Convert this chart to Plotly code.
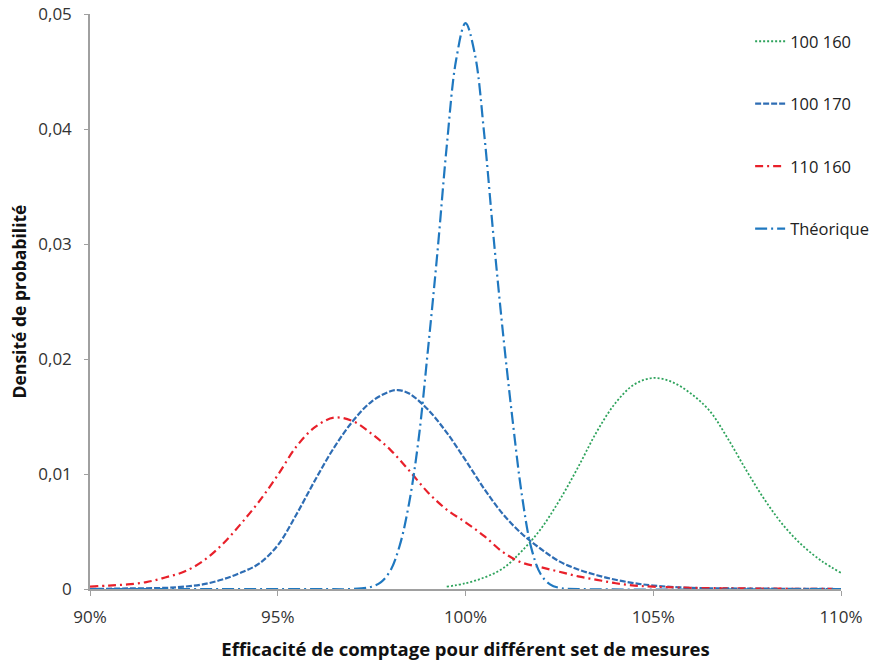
import plotly.graph_objects as go

# ---- data (x in %, y = probability density) ----
x_100_160 = [99.5, 100.0, 100.5, 101.0, 101.5, 102.0, 102.5, 103.0, 103.5, 104.0, 104.5, 105.0,
             105.5, 106.0, 106.5, 107.0, 107.5, 108.0, 108.5, 109.0, 109.5, 110.0]
y_100_160 = [0.0002, 0.0005, 0.0010, 0.0018, 0.0033, 0.0052, 0.0077, 0.0106, 0.0137, 0.0162, 0.0178, 0.01835,
             0.0180, 0.0170, 0.0155, 0.0130, 0.0102, 0.0076, 0.0054, 0.0037, 0.0024, 0.0014]

x_100_170 = [90.0, 91.0, 92.0, 92.5, 93.0, 93.5, 94.0, 94.5, 95.0, 95.5, 96.0, 96.5, 97.0, 97.5, 98.0, 98.2,
             98.5, 99.0, 99.5, 100.0, 100.5, 101.0, 101.5, 102.0, 102.5, 103.0, 103.5, 104.0, 104.5,
             105.0, 106.0, 107.0, 110.0]
y_100_170 = [0.0, 0.00005, 0.0001, 0.0002, 0.0004, 0.0008, 0.0014, 0.0022, 0.0038, 0.0065, 0.0095, 0.0123, 0.0146, 0.0163, 0.0172, 0.0173,
             0.0170, 0.0156, 0.0136, 0.0112, 0.0087, 0.0065, 0.0048, 0.0035, 0.0024, 0.0017, 0.0012, 0.0008, 0.0005,
             0.0003, 0.0001, 0.00005, 0.0]

x_110_160 = [90.0, 90.5, 91.0, 91.5, 92.0, 92.5, 93.0, 93.5, 94.0, 94.5, 95.0, 95.5, 96.0, 96.5, 97.0, 97.5,
             98.0, 98.5, 99.0, 99.5, 100.0, 100.5, 101.0, 101.5, 102.0, 102.5, 103.0, 103.5, 104.0, 104.5,
             105.0, 106.0, 110.0]
y_110_160 = [0.0002, 0.0003, 0.0004, 0.0006, 0.0010, 0.0015, 0.0024, 0.0038, 0.0056, 0.0076, 0.0099, 0.0124, 0.0141, 0.0149, 0.0146, 0.0135,
             0.0121, 0.0103, 0.0084, 0.0069, 0.0058, 0.0046, 0.0032, 0.0023, 0.0019, 0.0015, 0.0011, 0.0008, 0.0005, 0.0003,
             0.0002, 0.0001, 0.0]

x_theo = [90.0, 96.0, 97.0, 97.5, 97.75, 98.0, 98.25, 98.5, 98.75, 99.0, 99.25, 99.5, 99.75, 100.0,
          100.25, 100.5, 100.75, 101.0, 101.25, 101.5, 101.75, 102.0, 102.25, 102.5, 103.0, 110.0]
y_theo = [0.0, 0.0, 0.0, 0.0002, 0.0006, 0.0016, 0.0038, 0.0075, 0.0130, 0.0208, 0.0292, 0.0385, 0.0460, 0.0492,
          0.0465, 0.0395, 0.0305, 0.0222, 0.0148, 0.0082, 0.0036, 0.0013, 0.0004, 0.0001, 0.0, 0.0]

series_names = ["100 160", "100 170", "110 160", "Théorique"]

x_tickvals = [90, 95, 100, 105, 110]
x_ticktext = ["90%", "95%", "100%", "105%", "110%"]
y_tickvals = [0, 0.01, 0.02, 0.03, 0.04, 0.05]
y_ticktext = ["0", "0,01", "0,02", "0,03", "0,04", "0,05"]

FONT = "Open Sans"

fig = go.Figure()
styles = [
    (x_100_160, y_100_160, "#2ea35c", "2px,2px", 1.8),
    (x_100_170, y_100_170, "#2e6db4", "6px,2px", 2.2),
    (x_110_160, y_110_160, "#e8202a", "8px,4px,2px,4px", 2.2),
    (x_theo, y_theo, "#1f78c0", "12px,4px,2px,4px", 2.2),
]
for name, (xs, ys, col, dash, w) in zip(series_names, styles):
    fig.add_trace(go.Scatter(
        x=xs, y=ys, name=name, mode="lines", legendgroup=name,
        line=dict(color=col, dash=dash, width=w, shape="spline", smoothing=1.0),
    ))

fig.update_layout(
    width=886, height=661,
    margin=dict(l=90, r=28, t=14, b=72),
    paper_bgcolor="white", plot_bgcolor="white",
    font=dict(family=FONT, size=16, color="#222222"),
    showlegend=True,
    legend=dict(x=0.879, y=0.9826, xanchor="left", yanchor="top",
                tracegroupgap=38, font=dict(size=16.5, color="#222222"),
                bgcolor="rgba(0,0,0,0)"),
)
fig.update_xaxes(
    range=[90, 110], tickvals=x_tickvals, ticktext=x_ticktext, automargin=False,
    showgrid=False, zeroline=False, showline=True, linecolor="#a0a0a0", linewidth=1.5,
    ticks="outside", ticklen=5, tickcolor="#a0a0a0", tickfont=dict(size=17, color="#333333"),
    ticklabelstandoff=7,
    title=dict(text="<b>Efficacité de comptage pour différent set de mesures</b>",
               font=dict(size=18.5, color="#111111"), standoff=26),
)
fig.update_yaxes(
    range=[0, 0.05], tickvals=y_tickvals, ticktext=y_ticktext, automargin=False,
    showgrid=False, zeroline=False, showline=True, linecolor="#a0a0a0", linewidth=1.5,
    ticks="outside", ticklen=4, tickcolor="#a0a0a0", tickfont=dict(size=17, color="#333333"),
    ticklabelstandoff=9,
    title=dict(text="<b>Densité de probabilité</b>", font=dict(size=17.5, color="#111111"), standoff=7),
)

# remove the default page margin and scrollbars so the 886x661 figure fills the window exactly
fig.write_html(
    "out.html",
    config={"displayModeBar": False},
    post_script="document.body.style.margin='0';document.body.style.overflow='hidden';"
                "document.documentElement.style.overflow='hidden';",
)
